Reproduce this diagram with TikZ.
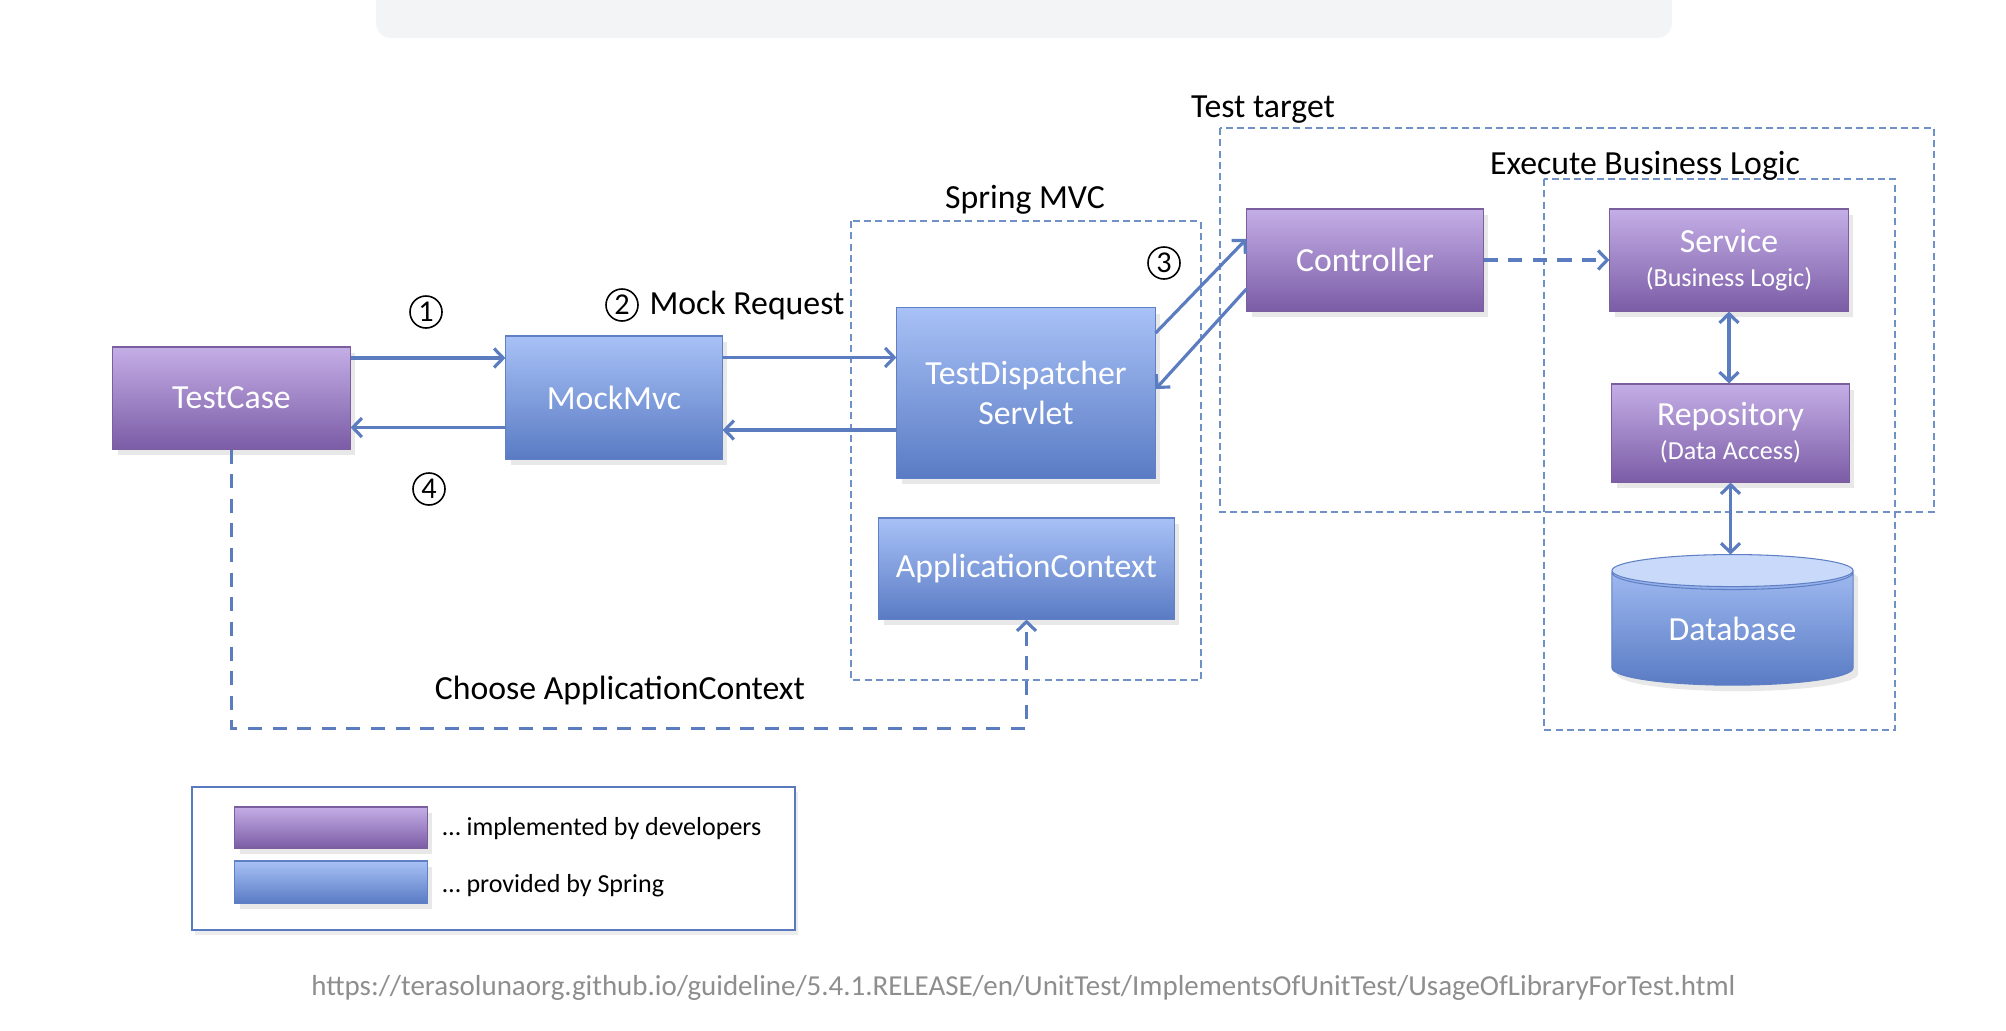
\documentclass[tikz,border=0pt]{standalone}
\usepackage{fontspec}
\setmainfont{Carlito}
\usetikzlibrary{arrows.meta}
\usetikzlibrary{shapes.geometric}
\usetikzlibrary{shadows}
\usetikzlibrary{positioning}

\definecolor{devtop}{HTML}{C4AEE6}
\definecolor{devbot}{HTML}{7B5CA6}
\definecolor{devline}{HTML}{7A5E9E}
\definecolor{sprtop}{HTML}{A8C1F6}
\definecolor{sprbot}{HTML}{5A7BC4}
\definecolor{sprline}{HTML}{5F80C4}
\definecolor{dbtop}{HTML}{C9D9F9}
\definecolor{flow}{HTML}{5B7CBF}
\definecolor{frame}{HTML}{7090C8}
\definecolor{legline}{HTML}{5A7AC0}
\definecolor{barfill}{HTML}{F3F4F6}
\definecolor{urlgray}{HTML}{8E8E8E}

\newcommand{\boxfont}{\fontsize{9.6}{11.4}\selectfont}
\newcommand{\subfont}{\fontsize{7.4}{9}\selectfont}
\newcommand{\legfont}{\fontsize{7.4}{9}\selectfont}

\tikzset{
  box/.style={rectangle, inner sep=0pt, text=white, font=\boxfont, align=center,
    line width=0.3pt, drop shadow={shadow xshift=0.5mm, shadow yshift=-0.6mm, opacity=0.18}},
  devbox/.style={box, draw=devline, top color=devtop, bottom color=devbot},
  sprbox/.style={box, draw=sprline, top color=sprtop, bottom color=sprbot},
  region/.style={draw=frame, line width=0.5pt, dash pattern=on 2pt off 1.2pt},
  label/.style={font=\boxfont, anchor=base},
  circnum/.style={circle, draw=black, line width=0.45pt, inner sep=0pt, minimum size=3.2mm,
    font=\fontsize{8.6}{9}\selectfont},
  flowarrow/.style={draw=flow, line width=0.9pt, -{Straight Barb[length=2.6pt,width=5.4pt]}},
  biarrow/.style={draw=flow, line width=0.9pt,
    {Straight Barb[length=2.6pt,width=5.4pt]}-{Straight Barb[length=2.6pt,width=5.4pt]}},
  dasharrow/.style={flowarrow, dash pattern=on 4pt off 3pt}
}

\begin{document}
\begin{tikzpicture}[x=0.01cm, y=-0.01cm]
  \useasboundingbox (0,0) rectangle (2006,1030);

  % page bar
  \fill[barfill, rounded corners=1.5mm] (376,-40) rectangle (1672,38);

  % regions
  \draw[region] (851,221)  rectangle (1201,680);
  \draw[region] (1220,128) rectangle (1934,512);
  \draw[region] (1544,179) rectangle (1895,730);
  \node[label] (lmvc)    at (1025,208) {Spring MVC};
  \node[label] (ltarget) at (1263,117) {Test target};
  \node[label] (llogic)  at (1645,174) {Execute Business Logic};

  % components
  \node[devbox, minimum width=23.7mm, minimum height=10.2mm] (tc)   at (231.5,398)  {TestCase};
  \node[sprbox, minimum width=21.6mm, minimum height=12.3mm] (mm)   at (614,397.5)  {MockMvc};
  \node[sprbox, minimum width=25.8mm, minimum height=17mm]   (td)   at (1026,393)   {TestDispatcher\\Servlet};
  \node[sprbox, minimum width=29.5mm, minimum height=10.1mm] (ac)   at (1026.5,568.5) {ApplicationContext};
  \node[devbox, minimum width=23.6mm, minimum height=10.2mm] (ctrl) at (1365,260)   {Controller};
  \node[devbox, minimum width=23.8mm, minimum height=10.2mm] (svc)  at (1729,260)
    {Service\\[-1.7pt]{\subfont (Business Logic)}};
  \node[devbox, minimum width=23.7mm, minimum height=9.8mm]  (repo) at (1730.5,433)
    {Repository\\[-1.7pt]{\subfont (Data Access)}};
  \node[box, cylinder, shape border rotate=90, aspect=0.27, draw=sprline,
        top color=sprtop, bottom color=sprbot,
        minimum width=24.1mm, minimum height=13mm] (db) at (1732.5,629) {\raisebox{-1mm}{Database}};
  \fill[dbtop, draw=sprline, line width=0.3pt] ([yshift=-1.6mm]db.north) ellipse [x radius=12.05mm, y radius=1.6mm];

  % flow
  \draw[flowarrow] ([yshift=4mm]tc.east)    -- ([yshift=4mm]tc.east -| mm.west);
  \draw[flowarrow] ([yshift=-3mm]mm.west)   -- ([yshift=-3mm]mm.west -| tc.east);
  \draw[flowarrow] ([yshift=4mm]mm.east)    -- ([yshift=4mm]mm.east -| td.west);
  \draw[flowarrow] ([yshift=-3.7mm]td.west) -- ([yshift=-3.7mm]td.west -| mm.east);
  \draw[flowarrow] ([yshift=6mm]td.east)    -- ([yshift=2.1mm]ctrl.west);
  \draw[flowarrow] ([yshift=-2.9mm]ctrl.west) -- ([yshift=0.4mm]td.east);
  \draw[dasharrow] (ctrl.east) -- (svc.west);
  \draw[biarrow]   (svc.south) -- (svc.south |- repo.north);
  \draw[biarrow]   (repo.south) -- (repo.south |- db.north);
  \draw[dasharrow] (tc.south) -- ++(0,279) -| (ac.south);

  % step numbers
  \node[circnum] (n1) at (426,312) {1};
  \node[circnum] (n2) at (622,305) {2};
  \node[label, anchor=west, inner sep=0pt] (lreq) [right=1mm of n2] {Mock Request};
  \node[circnum] (n3) at (1164,263) {3};
  \node[circnum] (n4) at (429,489) {4};
  \node[label] (lchoose) at (620,699) {Choose ApplicationContext};

  % legend
  \draw[legline, line width=0.4pt, fill=white,
        drop shadow={shadow xshift=0.3mm, shadow yshift=-0.5mm, opacity=0.15}] (192,787) rectangle (795,930);
  \node[devbox, minimum width=19.2mm, minimum height=4.1mm] (kdev) at (331,827.5) {};
  \node[sprbox, minimum width=19.2mm, minimum height=4.2mm] (kspr) at (331,882) {};
  \node[font=\legfont, anchor=base west, inner sep=0pt] (tdev) at (442,835) {… implemented by developers};
  \node[font=\legfont, anchor=base west, inner sep=0pt] (tspr) at (442,892) {… provided by Spring};

  % source
  \node[anchor=base, inner sep=0pt, text=urlgray] (src) at (1023.5,995)
    {\resizebox{405pt}{!}{\fontsize{8.2}{10}\selectfont https://terasolunaorg.github.io/guideline/5.4.1.RELEASE/en/UnitTest/ImplementsOfUnitTest/UsageOfLibraryForTest.html}};
\end{tikzpicture}
\end{document}
